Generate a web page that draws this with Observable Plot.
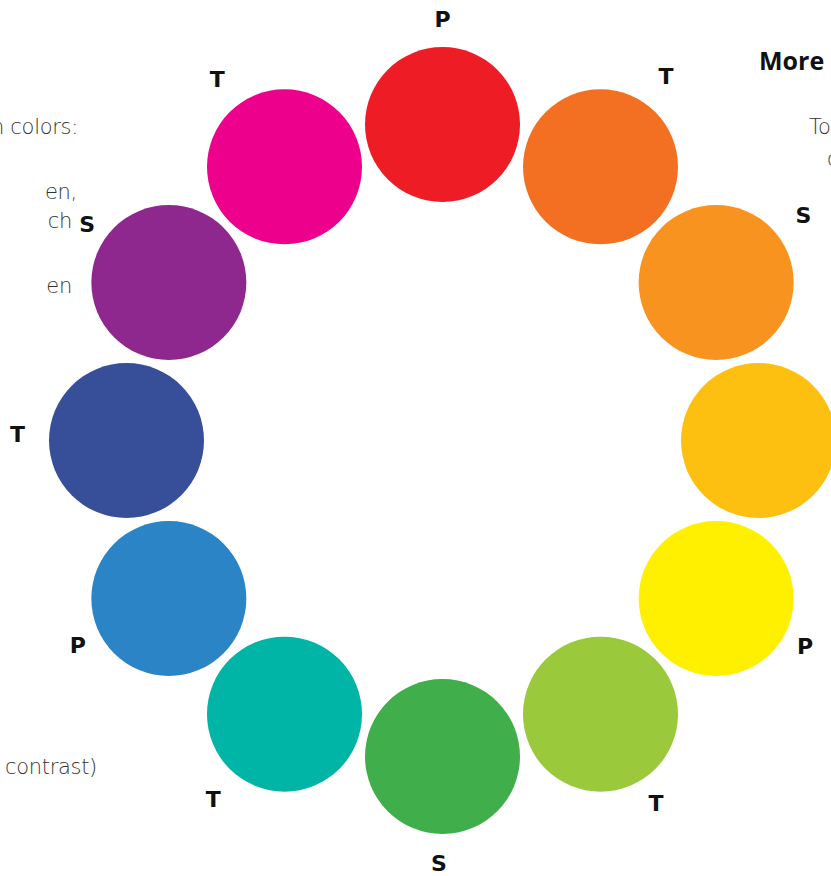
<!DOCTYPE html>
<html>
<head>
<meta charset="utf-8">
<script src="https://cdn.jsdelivr.net/npm/d3@7"></script>
<script src="https://cdn.jsdelivr.net/npm/@observablehq/plot@0.6"></script>
<style>
  html, body { margin: 0; padding: 0; background: #fff; overflow: hidden; }
  #wrap { position: relative; width: 831px; height: 876px; overflow: hidden; }
  .note { position: absolute; font-family: "DejaVu Sans", "Liberation Sans", sans-serif; font-size: 21px; color: #333; white-space: nowrap; line-height: 1; font-weight: 200; letter-spacing: -0.3px; }
  .head { position: absolute; font-family: "Open Sans", "DejaVu Sans", sans-serif; font-size: 25px; font-weight: 700; color: #111; white-space: nowrap; line-height: 1; }
</style>
</head>
<body>
<div id="wrap"></div>
<script>
// Colour wheel: 12 hues, clockwise from the top
const hueNames = ["red", "red-orange", "orange", "yellow-orange", "yellow", "yellow-green",
                  "green", "blue-green", "blue", "blue-violet", "violet", "red-violet"];
const hueColors = ["#EE1C25", "#F37022", "#F7931E", "#FDC010", "#FFF000", "#9BC93C",
                   "#40AE4A", "#00B4A6", "#2A84C6", "#364F98", "#8E288F", "#EC008C"];
const hueKinds = ["P", "T", "S", "T", "P", "T", "S", "T", "P", "T", "S", "T"];
const hueStep = [0, 1, 2, 3, 4, 5, 6, 7, 8, 9, 10, 11];
// where each P/S/T label sits around the wheel (degrees clockwise from top, distance as a share of the wheel radius)
const labelAngle = [0, 31.6, 58.1, 90, 119.6, 149.6, 180.5, 212.5, 240.6, 270.8, 301.2, 328];
const labelDist = [1.33, 1.35, 1.345, 1.34, 1.32, 1.335, 1.34, 1.35, 1.325, 1.345, 1.315, 1.345];

const wheel = hueStep.map((s, i) => {
  const a = s * Math.PI / 6; // 30° per hue, clockwise from top
  const la = labelAngle[i] * Math.PI / 180;
  return {
    name: hueNames[i], color: hueColors[i], kind: hueKinds[i],
    x: Math.sin(a), y: Math.cos(a),
    lx: Math.sin(la) * labelDist[i], ly: Math.cos(la) * labelDist[i]
  };
});

const chart = Plot.plot({
  width: 831,
  height: 876,
  margin: 0,
  x: { domain: [-1, 1], range: [126, 758], axis: null },
  y: { domain: [-1, 1], range: [756, 124], axis: null },
  marks: [
    Plot.dot(wheel, { x: "x", y: "y", r: 77.5, fill: d => d.color, stroke: "none" }),
    Plot.text(wheel, { x: "lx", y: "ly", text: "kind", fontSize: 22, fontWeight: "bold",
      fill: "#111", fontFamily: "DejaVu Sans, sans-serif" })
  ]
});
chart.style.position = "absolute";
chart.style.left = "0";
chart.style.top = "0";
const wrap = document.getElementById("wrap");
wrap.appendChild(chart);

// Cropped-off side notes of the surrounding page
const notes = [
  { t: "n colors:", right: 753, top: 117 },
  { t: "en,", right: 754, top: 182 },
  { t: "ch", right: 759, top: 211 },
  { t: "en", right: 759, top: 276 },
  { t: "contrast)", right: 734, top: 757 }
];
notes.forEach(n => {
  const el = document.createElement("div");
  el.className = "note";
  el.textContent = n.t;
  el.style.right = n.right + "px";
  el.style.top = n.top + "px";
  wrap.appendChild(el);
});
const rightNotes = [
  { t: "To", left: 809, top: 117 },
  { t: "c", left: 827, top: 149 }
];
rightNotes.forEach(n => {
  const el = document.createElement("div");
  el.className = "note";
  el.textContent = n.t;
  el.style.left = n.left + "px";
  el.style.top = n.top + "px";
  wrap.appendChild(el);
});
const head = document.createElement("div");
head.className = "head";
head.textContent = "More";
head.style.left = "759px";
head.style.top = "48px";
wrap.appendChild(head);
</script>
</body>
</html>
